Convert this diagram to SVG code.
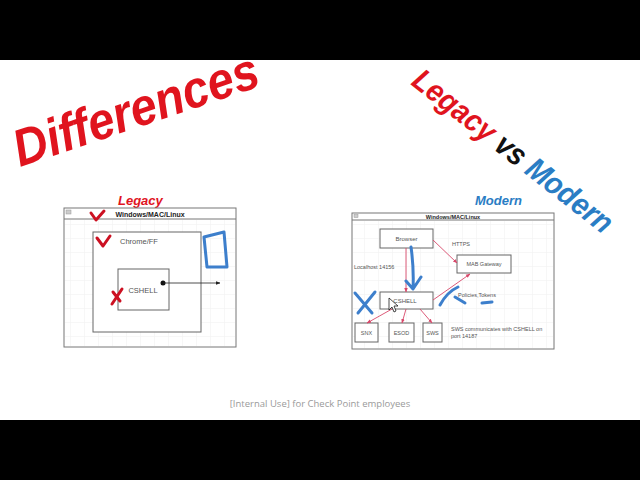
<svg xmlns="http://www.w3.org/2000/svg" width="640" height="480" viewBox="0 0 640 480">
<defs>
<style>
.win{fill:#fff;stroke:#777;stroke-width:1}
.box{fill:#fff;stroke:#666;stroke-width:1}
.t{font-family:"Liberation Sans",Arial,sans-serif;fill:#555}
.tb{font-family:"Liberation Sans",Arial,sans-serif;font-weight:bold;fill:#222}
.red{stroke:#d8486a;stroke-width:0.9;fill:none}
.chk{stroke:#cc1122;stroke-width:3;fill:none;stroke-linecap:round;stroke-linejoin:round}
.blu{stroke:#3d7fcc;stroke-width:3;fill:none;stroke-linecap:round;stroke-linejoin:round}
.title{font-family:"Liberation Sans",Arial,sans-serif;font-weight:bold;font-style:italic}
</style>
<marker id="ar" viewBox="0 0 10 10" refX="9" refY="5" markerWidth="5" markerHeight="5" orient="auto"><path d="M0,1 L10,5 L0,9 z" fill="#d8486a"/></marker>
<marker id="ak" viewBox="0 0 10 10" refX="9" refY="5" markerWidth="6" markerHeight="6" orient="auto"><path d="M0,1 L10,5 L0,9 z" fill="#222"/></marker>
<pattern id="grid" width="14" height="14" patternUnits="userSpaceOnUse"><path d="M14,0 L0,0 0,14" fill="none" stroke="#f0f0f0" stroke-width="1"/></pattern>
</defs>
<rect x="0" y="0" width="640" height="480" fill="#fff"/>
<rect x="0" y="0" width="640" height="60" fill="#000"/>
<rect x="0" y="420" width="640" height="60" fill="#000"/>

<text class="title" x="20" y="167" font-size="52" fill="#e0141e" textLength="256" lengthAdjust="spacingAndGlyphs" transform="rotate(-18.6 20 167)">Differences</text>
<text class="title" x="410" y="84" font-size="31" textLength="245" lengthAdjust="spacingAndGlyphs" transform="rotate(38 410 84)"><tspan fill="#e0141e">Legacy</tspan><tspan fill="#111"> vs </tspan><tspan fill="#2a7dc4">Modern</tspan></text>

<!-- Legacy diagram -->
<g id="legacy">
<text class="title" x="118" y="205" font-size="13" fill="#e0141e">Legacy</text>
<rect class="win" x="64" y="208" width="172" height="139"/>
<rect x="65" y="220" width="170" height="126" fill="url(#grid)"/>
<line x1="64" y1="219" x2="236" y2="219" stroke="#777"/>
<rect x="66" y="210" width="5" height="4" fill="#ccc" stroke="#999" stroke-width="0.5"/>
<text class="tb" x="150" y="216.5" font-size="7" text-anchor="middle">Windows/MAC/Linux</text>
</g>
<g id="chrome">
<rect class="box" x="93" y="232" width="108" height="100"/>
<text class="t" x="120" y="244" font-size="7.5">Chrome/FF</text>
</g>
<g id="cshell-legacy">
<rect class="box" x="118" y="269" width="51" height="41"/>
<text class="t" x="143" y="293" font-size="7.5" text-anchor="middle">CSHELL</text>
</g>

<!-- Modern diagram -->
<g id="modern">
<text class="title" x="475" y="205" font-size="13" fill="#2a7dc4">Modern</text>
<rect class="win" x="352" y="213" width="202" height="136"/>
<rect x="353" y="221" width="200" height="127" fill="url(#grid)"/>
<line x1="352" y1="220" x2="554" y2="220" stroke="#777"/>
<rect x="354" y="214.5" width="4" height="3" fill="#ccc" stroke="#999" stroke-width="0.5"/>
<text class="tb" x="453" y="218.5" font-size="5.5" text-anchor="middle">Windows/MAC/Linux</text>
</g>
<g id="browser"><rect class="box" x="380" y="229" width="53" height="19"/><text class="t" x="406.5" y="241" font-size="6" text-anchor="middle">Browser</text></g>
<g id="mab"><rect class="box" x="457" y="255" width="54" height="18"/><text class="t" x="484" y="266" font-size="5.5" text-anchor="middle">MAB Gateway</text></g>
<g id="cshell"><rect class="box" x="380" y="292" width="53" height="17"/><text class="t" x="405" y="303" font-size="6" text-anchor="middle">CSHELL</text></g>
<g id="snx"><rect class="box" x="355" y="323" width="23" height="19"/><text class="t" x="366.5" y="335" font-size="5.5" text-anchor="middle">SNX</text></g>
<g id="esod"><rect class="box" x="389" y="323" width="25" height="19"/><text class="t" x="401.5" y="335" font-size="5.5" text-anchor="middle">ESOD</text></g>
<g id="sws"><rect class="box" x="423" y="323" width="19" height="19"/><text class="t" x="432.5" y="335" font-size="5.5" text-anchor="middle">SWS</text></g>

<g id="labels">
<text class="t" x="452" y="246" font-size="5.5">HTTPS</text>
<text class="t" x="354" y="269" font-size="5.5">Localhost 14156</text>
<text class="t" x="458" y="297" font-size="5.5">Policies,Tokens</text>
<text class="t" x="451" y="331" font-size="5.5">SWS communicates with  CSHELL on</text>
<text class="t" x="451" y="337.5" font-size="5.5">port 14187</text>
<text x="320" y="407" font-family="'Open Sans','Liberation Sans',sans-serif" font-size="9.5" fill="#9a9a9a" text-anchor="middle">[Internal Use] for Check Point employees</text>
</g>

<g id="connectors">
<circle cx="163" cy="283" r="2.5" fill="#111"/>
<line x1="163" y1="283" x2="220" y2="283" stroke="#222" stroke-width="0.8" marker-end="url(#ak)"/>
<line class="red" x1="406" y1="248" x2="406" y2="292" marker-end="url(#ar)"/>
<line class="red" x1="433" y1="240" x2="457" y2="263" marker-end="url(#ar)"/>
<line class="red" x1="433" y1="300" x2="470" y2="274" marker-end="url(#ar)"/>
<line class="red" x1="392" y1="309" x2="367" y2="323" marker-end="url(#ar)"/>
<line class="red" x1="406" y1="309" x2="402" y2="323" marker-end="url(#ar)"/>
<line class="red" x1="420" y1="309" x2="432" y2="323" marker-end="url(#ar)"/>
</g>

<g id="annotations">
<path class="chk" d="M91,213 L96,220 L104,211"/>
<path class="chk" d="M97,238 L103,246 L110,236"/>
<path class="chk" d="M112,304 L122,289 M113,292 L120,301"/>
<path class="blu" d="M204,237 L207,267 L227,267 L224,232 L204,237"/>
<path class="blu" d="M355,293 L372,313 M375,292 L358,313"/>
<path class="blu" d="M411,247 Q414,268 413,289 M406,281 L413,289 L421,277"/>
<path class="blu" d="M440,305 Q447,292 458,287 M455,297 L465,303"/>
<path class="blu" d="M482,303 L492,302"/>
<path d="M389,298 L389,310 L392,307 L394,312 L396,311 L394,306 L398,306 Z" fill="#fff" stroke="#000" stroke-width="0.7"/>
</g>
</svg>
